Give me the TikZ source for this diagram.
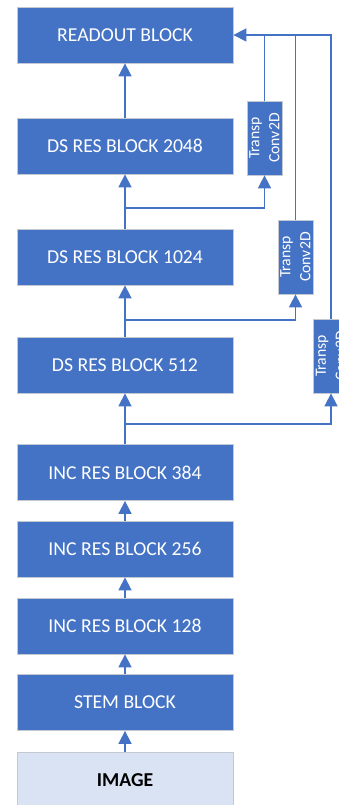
\documentclass[tikz,border=0pt]{standalone}
\usepackage{fontspec}
\setmainfont{Carlito}
\usepackage{tikz}
\usetikzlibrary{arrows.meta,positioning}

\definecolor{blockblue}{HTML}{4472C4}
\definecolor{imgfill}{HTML}{DAE3F3}
\definecolor{edgegray}{HTML}{C3C8D2}

\tikzset{
	block/.style={draw=edgegray,line width=.8pt,fill=blockblue,text=white,minimum width=216pt,minimum height=56pt,inner sep=0pt,font=\fontsize{19.7}{22}\selectfont},
	imgblock/.style={block,fill=imgfill,text=black,font=\fontsize{19.7}{22}\selectfont\bfseries},
	transp/.style={draw=edgegray,line width=.8pt,fill=blockblue,text=white,rotate=90,minimum width=74pt,minimum height=35pt,inner sep=0pt,align=center,font=\fontsize{15.7}{20}\selectfont},
	arr/.style={draw=blockblue,line width=1.6pt,-{Triangle[length=13pt,width=13pt]}},
	link/.style={draw=blockblue,line width=1.6pt}
}

\begin{document}
\begin{tikzpicture}[x=1pt,y=1pt]
	\useasboundingbox (0,0) rectangle (339,805);
	\clip (0,0) rectangle (339,805);

	% main column
	\node[block] (readout) at (125,770) {READOUT BLOCK};
	\node[block] (ds2048) at (125,659) {DS RES BLOCK 2048};
	\node[block] (ds1024) at (125,548) {DS RES BLOCK 1024};
	\node[block] (ds512) at (125,440) {DS RES BLOCK 512};
	\node[block] (inc384) at (125,332.5) {INC RES BLOCK 384};
	\node[block] (inc256) at (125,256) {INC RES BLOCK 256};
	\node[block] (inc128) at (125,179) {INC RES BLOCK 128};
	\node[block] (stem) at (125,102.5) {STEM BLOCK};
	\node[imgblock] (image) at (125,25) {IMAGE};

	% upsampling side
	\node[transp] (tc1) at (264.5,667) {Transp\\Conv2D};
	\node[transp] (tc2) at (295.5,548) {Transp\\Conv2D};
	\node[transp] (tc3) at (331,449) {Transp\\Conv2D};

	% trunk
	\draw[arr] (image.north) -- (stem.south);
	\draw[arr] (stem.north) -- (inc128.south);
	\draw[arr] (inc128.north) -- (inc256.south);
	\draw[arr] (inc256.north) -- (inc384.south);
	\draw[arr] (inc384.north) -- (ds512.south);
	\draw[arr] (ds512.north) -- (ds1024.south);
	\draw[arr] (ds1024.north) -- (ds2048.south);
	\draw[arr] (ds2048.north) -- (readout.south);

	% branches
	\coordinate (br1) at (125,597);
	\coordinate (br2) at (125,485);
	\coordinate (br3) at (125,381);
	\draw[arr] (br1) -| (tc1.west);
	\draw[arr] (br2) -| (tc2.west);
	\draw[arr] (br3) -| (tc3.west);

	% back to readout
	\draw[arr] (tc3.east) |- (readout.east);
	\draw[link] (tc2.east) -- (tc2.east |- readout.east);
	\draw[link] (tc1.east) -- (tc1.east |- readout.east);
\end{tikzpicture}
\end{document}
